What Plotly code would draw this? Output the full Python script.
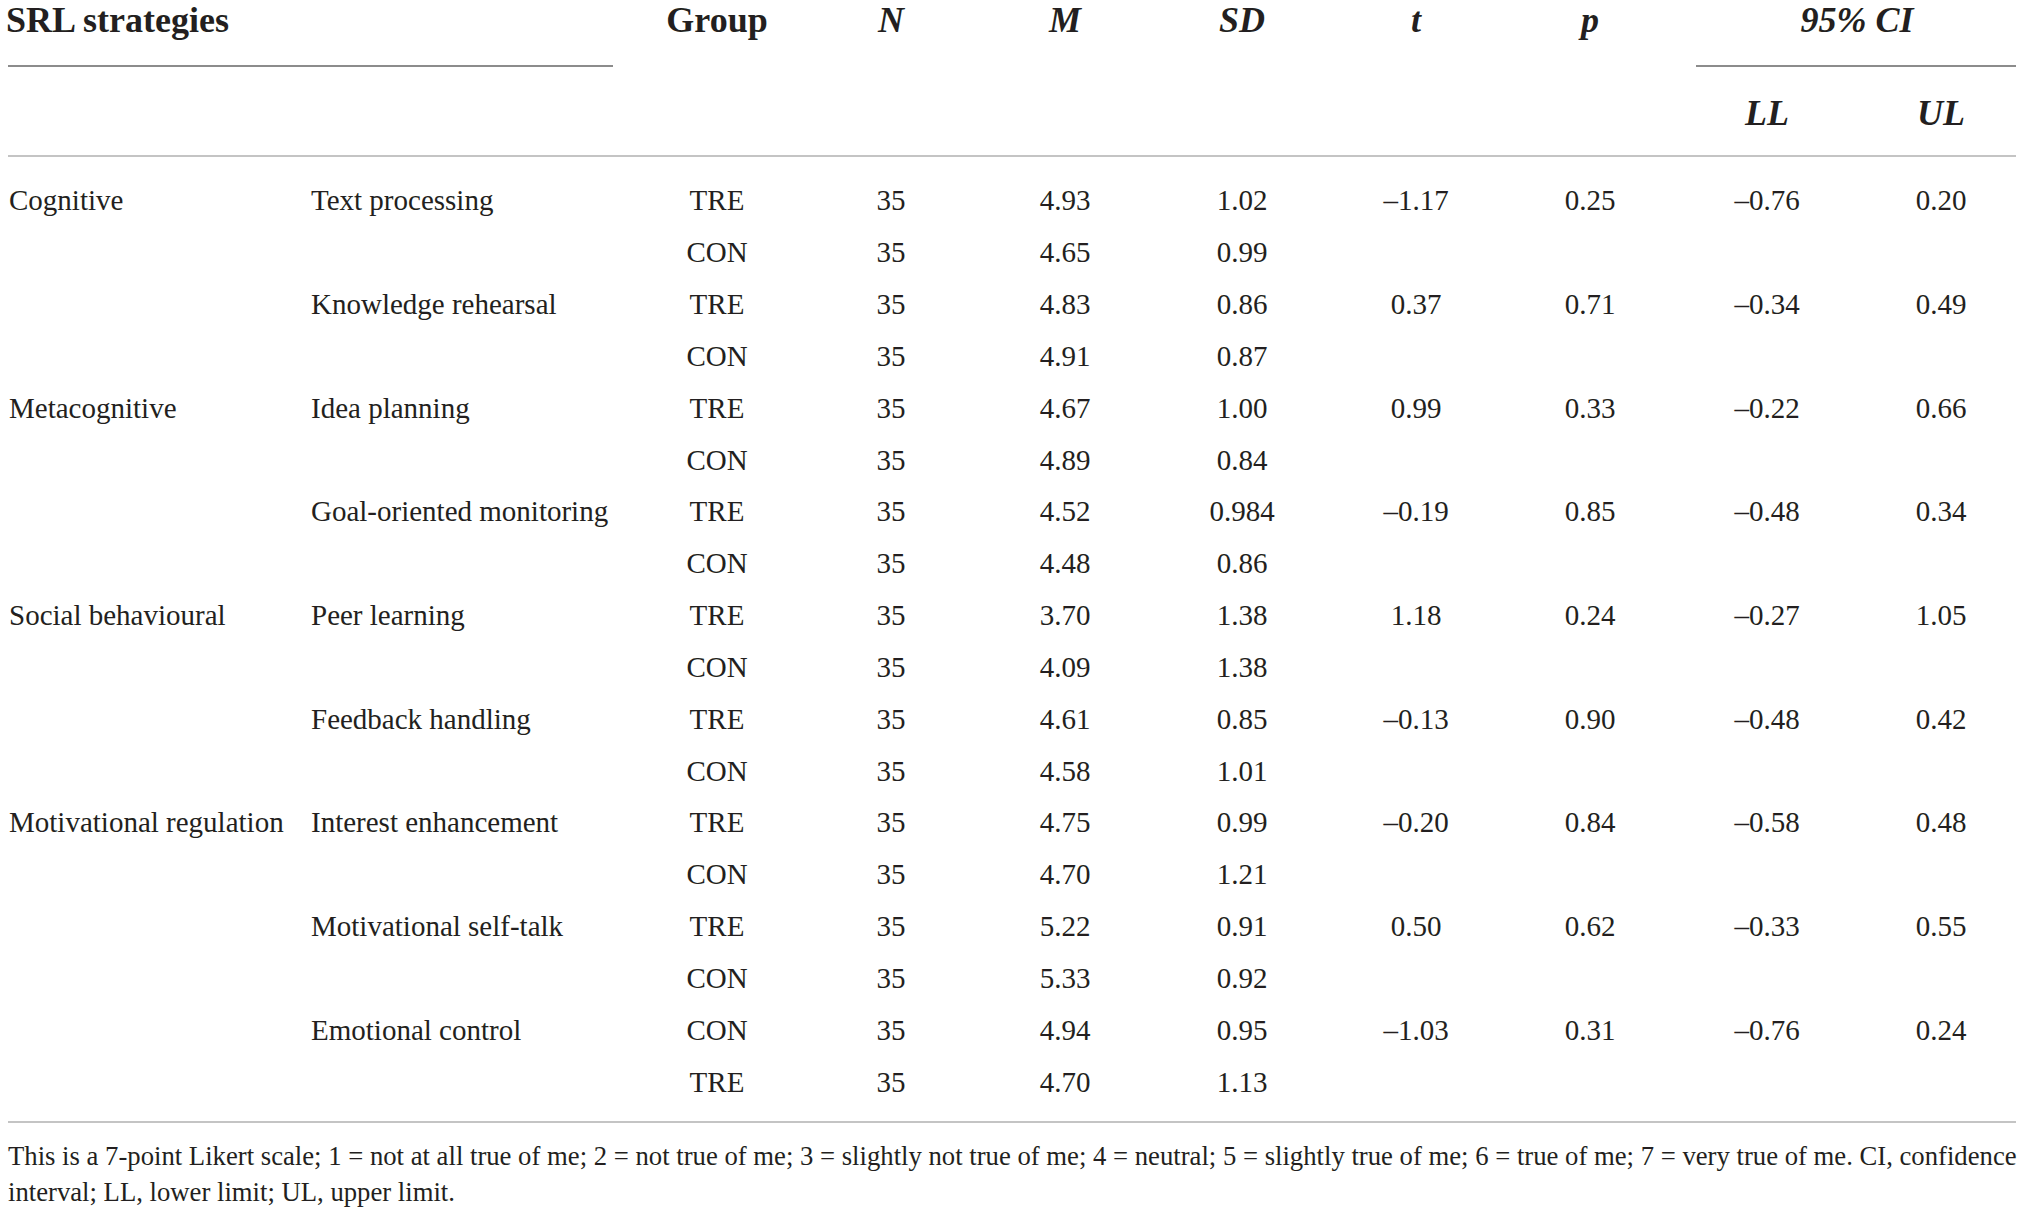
import plotly.graph_objects as go

# table content
srl_category = ["Cognitive", "", "", "", "Metacognitive", "", "", "",
                "Social behavioural", "", "", "", "Motivational regulation", "", "", "", "", ""]
strategy = ["Text processing", "", "Knowledge rehearsal", "", "Idea planning", "",
            "Goal-oriented monitoring", "", "Peer learning", "", "Feedback handling", "",
            "Interest enhancement", "", "Motivational self-talk", "", "Emotional control", ""]
group = ["TRE", "CON", "TRE", "CON", "TRE", "CON", "TRE", "CON", "TRE", "CON",
         "TRE", "CON", "TRE", "CON", "TRE", "CON", "CON", "TRE"]
n_vals = ["35"] * 18
m_vals = ["4.93", "4.65", "4.83", "4.91", "4.67", "4.89", "4.52", "4.48", "3.70",
          "4.09", "4.61", "4.58", "4.75", "4.70", "5.22", "5.33", "4.94", "4.70"]
sd_vals = ["1.02", "0.99", "0.86", "0.87", "1.00", "0.84", "0.984", "0.86", "1.38",
           "1.38", "0.85", "1.01", "0.99", "1.21", "0.91", "0.92", "0.95", "1.13"]
t_vals = ["\u20131.17", "", "0.37", "", "0.99", "", "\u20130.19", "", "1.18", "",
          "\u20130.13", "", "\u20130.20", "", "0.50", "", "\u20131.03", ""]
p_vals = ["0.25", "", "0.71", "", "0.33", "", "0.85", "", "0.24", "",
          "0.90", "", "0.84", "", "0.62", "", "0.31", ""]
ll_vals = ["\u20130.76", "", "\u20130.34", "", "\u20130.22", "", "\u20130.48", "", "\u20130.27", "",
           "\u20130.48", "", "\u20130.58", "", "\u20130.33", "", "\u20130.76", ""]
ul_vals = ["0.20", "", "0.49", "", "0.66", "", "0.34", "", "1.05", "",
           "0.42", "", "0.48", "", "0.55", "", "0.24", ""]

header_main = ["<b>SRL strategies</b>", "<b>Group</b>", "<b><i>N</i></b>", "<b><i>M</i></b>",
               "<b><i>SD</i></b>", "<b><i>t</i></b>", "<b><i>p</i></b>", "<b><i>95% CI</i></b>"]
header_sub = ["<b><i>LL</i></b>", "<b><i>UL</i></b>"]
footnote = [
    "This is a 7-point Likert scale; 1 = not at all true of me; 2 = not true of me; "
    "3 = slightly not true of me; 4 = neutral; 5 = slightly true of me; 6 = true of me; "
    "7 = very true of me. CI, confidence",
    "interval; LL, lower limit; UL, upper limit.",
]

W, H = 2022, 1213
FONT = "Liberation Serif"
INK = "#231f20"
BODY = 29
HEAD = 36
NOTE = 26.7

row_top, row_step = 203, 51.85
rows_y = [row_top + row_step * i for i in range(len(group))]

fig = go.Figure()


def text_col(x, texts, ys, pos="middle center", size=BODY):
    fig.add_trace(go.Scatter(
        x=[x] * len(texts), y=ys, text=texts, mode="text",
        textposition=pos, textfont=dict(family=FONT, size=size, color=INK),
        cliponaxis=False, hoverinfo="skip", showlegend=False,
    ))


# body columns
text_col(9, srl_category, rows_y, "middle right")
text_col(311, strategy, rows_y, "middle right")
centers = [717, 891, 1065, 1242, 1416, 1590, 1767, 1941]
for cx, col in zip(centers, [group, n_vals, m_vals, sd_vals, t_vals, p_vals, ll_vals, ul_vals]):
    text_col(cx, col, rows_y)

# header
head_x = [6, 717, 891, 1065, 1242, 1416, 1590, 1857]
text_col(head_x[0], header_main[:1], [23], "middle right", HEAD)
for hx, ht in zip(head_x[1:], header_main[1:]):
    text_col(hx, [ht], [23], "middle center", HEAD)
for hx, ht in zip([1767, 1941], header_sub):
    text_col(hx, [ht], [116], "middle center", HEAD)

# footnote
text_col(8, footnote, [1158, 1194], "middle right", NOTE)

# rules
dark, light = "#8c8c8c", "#c4c4c4"
rules = [
    (8, 613, 66, dark),
    (1696, 2016, 66, dark),
    (8, 2016, 156, light),
    (8, 2016, 1122, light),
]
for x0, x1, y, c in rules:
    fig.add_shape(type="line", x0=x0, x1=x1, y0=y, y1=y, xref="x", yref="y",
                  line=dict(color=c, width=2))

fig.update_layout(
    width=W, height=H,
    margin=dict(l=0, r=0, t=0, b=0, pad=0),
    paper_bgcolor="white", plot_bgcolor="white",
    xaxis=dict(range=[0, W], visible=False, fixedrange=True),
    yaxis=dict(range=[H, 0], visible=False, fixedrange=True),
)

# drop the default page margin so the figure sits at the window corner
fig.write_html("out.html", config={"displayModeBar": False},
               post_script="document.body.style.margin='0';")
